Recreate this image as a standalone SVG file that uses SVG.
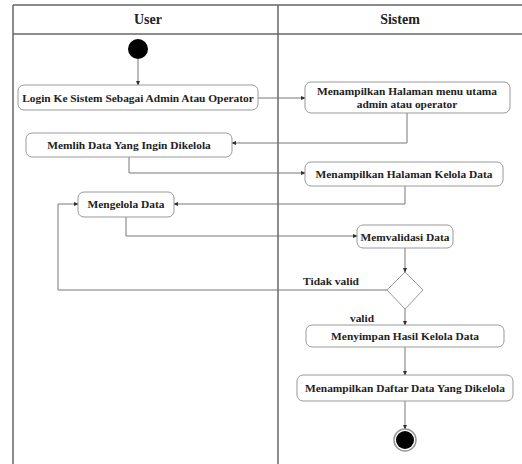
<svg xmlns="http://www.w3.org/2000/svg" width="522" height="464" viewBox="0 0 522 464">
<style>
.frame{fill:none;stroke:#666;stroke-width:1.5}
.node rect{fill:#fff;stroke:#999;stroke-width:1}
text{font-family:"Liberation Serif","Times New Roman",serif;font-weight:bold;fill:#222;text-anchor:middle}
.t{font-size:11.4px}
.h{font-size:14px}
.c{fill:none;stroke:#777;stroke-width:1}
</style>
<defs>
<marker id="ah" viewBox="0 0 6 6" refX="5" refY="3" markerWidth="5" markerHeight="5" orient="auto" markerUnits="userSpaceOnUse">
<path d="M0,0.5 L6,3 L0,5.5 z" fill="#333"/>
</marker>
</defs>
<rect width="522" height="464" fill="#fff"/>
<g id="swimlanes">
<line class="frame" x1="13" y1="5" x2="522" y2="5"/>
<line class="frame" x1="13" y1="34" x2="522" y2="34"/>
<line class="frame" x1="13" y1="5" x2="13" y2="464"/>
<line class="frame" x1="278" y1="5" x2="278" y2="464"/>
<text class="h" x="148" y="24">User</text>
<text class="h" x="400" y="24">Sistem</text>
</g>
<g id="connectors">
<line class="c" x1="138" y1="59" x2="138" y2="85" marker-end="url(#ah)"/>
<line class="c" x1="258" y1="98" x2="305" y2="98" marker-end="url(#ah)"/>
<polyline class="c" points="407,113 407,143 232,143" marker-end="url(#ah)"/>
<polyline class="c" points="129,157 129,173 305,173" marker-end="url(#ah)"/>
<polyline class="c" points="405,186 405,204 174,204" marker-end="url(#ah)"/>
<polyline class="c" points="126,217 126,236 357,236" marker-end="url(#ah)"/>
<line class="c" x1="405" y1="248" x2="405" y2="272" marker-end="url(#ah)"/>
<polyline class="c" points="387,290 58,290 58,204 78,204" marker-end="url(#ah)"/>
<line class="c" x1="405" y1="309" x2="405" y2="325" marker-end="url(#ah)"/>
<line class="c" x1="405" y1="347" x2="405" y2="375" marker-end="url(#ah)"/>
<line class="c" x1="405" y1="401" x2="405" y2="429" marker-end="url(#ah)"/>
<text class="t" x="331" y="285">Tidak valid</text>
<text class="t" x="362" y="322">valid</text>
</g>
<g id="start"><circle cx="138" cy="49" r="10" fill="#000"/></g>
<g id="login" class="node"><rect x="18" y="85" width="240" height="25" rx="6"/><text class="t" x="138" y="101.5">Login Ke Sistem Sebagai Admin Atau Operator</text></g>
<g id="menu-utama" class="node"><rect x="305" y="82" width="205" height="31" rx="6"/><text class="t" x="407" y="95">Menampilkan Halaman menu utama</text><text class="t" x="407" y="108">admin atau operator</text></g>
<g id="memilih" class="node"><rect x="26" y="133" width="206" height="24" rx="6"/><text class="t" x="129" y="149">Memlih Data Yang Ingin Dikelola</text></g>
<g id="kelola-data" class="node"><rect x="305" y="162" width="198" height="24" rx="6"/><text class="t" x="404" y="178">Menampilkan Halaman Kelola Data</text></g>
<g id="mengelola" class="node"><rect x="78" y="192" width="96" height="25" rx="6"/><text class="t" x="126" y="208">Mengelola Data</text></g>
<g id="memvalidasi" class="node"><rect x="357" y="225" width="96" height="23" rx="6"/><text class="t" x="405" y="241">Memvalidasi Data</text></g>
<g id="decision"><polygon points="405,272 423,290 405,309 387,290" fill="#fff" stroke="#999" stroke-width="1"/></g>
<g id="menyimpan" class="node"><rect x="306" y="325" width="198" height="22" rx="6"/><text class="t" x="405" y="340">Menyimpan Hasil Kelola Data</text></g>
<g id="daftar" class="node"><rect x="297" y="375" width="216" height="26" rx="6"/><text class="t" x="405" y="392">Menampilkan Daftar Data Yang Dikelola</text></g>
<g id="end"><circle cx="405" cy="440" r="11" fill="#fff" stroke="#999" stroke-width="1.5"/><circle cx="405" cy="440" r="9" fill="#000"/></g>
</svg>
